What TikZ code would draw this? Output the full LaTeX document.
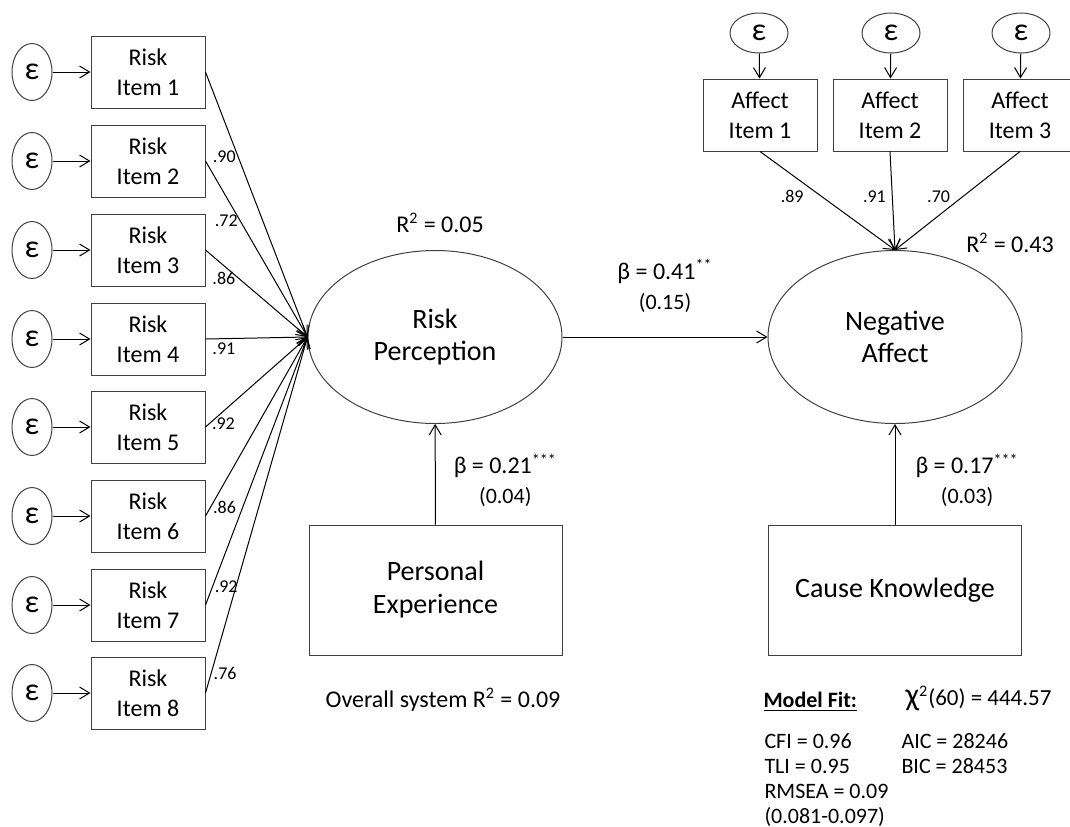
\documentclass[tikz,border=0pt]{standalone}
\usepackage{fontspec}
\setmainfont{Carlito}
\usetikzlibrary{positioning, shapes.geometric, arrows.meta}

\begin{document}
\begin{tikzpicture}[
    x=0.5pt, y=-0.5pt,
    >={Straight Barb[length=5pt,width=6pt]},
    line width=0.5pt,
    item/.style={draw=black!75, minimum width=57pt, minimum height=36pt, inner sep=0pt, align=center, font=\fontsize{12}{15}\selectfont},
    err/.style={draw=black!75, ellipse, minimum width=20pt, minimum height=28.5pt, inner sep=0pt, font=\fontsize{16}{16}\selectfont},
    errtop/.style={err, minimum width=29pt, minimum height=20pt},
    latent/.style={draw=black!75, ellipse, minimum width=127pt, minimum height=86.5pt, inner sep=0pt, align=center, font=\fontsize{14}{16}\selectfont},
    bigbox/.style={draw=black!75, minimum width=126.5pt, minimum height=65pt, inner sep=0pt, align=center, font=\fontsize{14}{16.5}\selectfont},
    load/.style={font=\fontsize{9}{9}\selectfont, inner sep=1pt},
    coef/.style={align=center, inner sep=0pt, font=\fontsize{12}{15}\selectfont},
    fitstat/.style={anchor=north west, inner sep=0pt, font=\fontsize{11}{12.5}\selectfont, align=left}
]
    \useasboundingbox (0,0) rectangle (1070,826);

    % Risk items with their error terms
    \node[item] (r1) at (148,72)  {Risk\\Item 1};
    \node[item] (r2) at (148,161) {Risk\\Item 2};
    \node[item] (r3) at (148,250) {Risk\\Item 3};
    \node[item] (r4) at (148,339) {Risk\\Item 4};
    \node[item] (r5) at (148,427) {Risk\\Item 5};
    \node[item] (r6) at (148,516) {Risk\\Item 6};
    \node[item] (r7) at (148,605) {Risk\\Item 7};
    \node[item] (r8) at (148,693) {Risk\\Item 8};
    \node[err] (e1) at (32,72)  {ε};
    \node[err] (e2) at (32,161) {ε};
    \node[err] (e3) at (32,250) {ε};
    \node[err] (e4) at (32,339) {ε};
    \node[err] (e5) at (32,427) {ε};
    \node[err] (e6) at (32,516) {ε};
    \node[err] (e7) at (32,605) {ε};
    \node[err] (e8) at (32,693) {ε};

    % Affect items
    \node[item] (a1) at (760,115)  {Affect\\Item 1};
    \node[item] (a2) at (890,115)  {Affect\\Item 2};
    \node[item] (a3) at (1020,115) {Affect\\Item 3};
    \node[errtop] (ea1) at (759,33)  {ε};
    \node[errtop] (ea2) at (891,33)  {ε};
    \node[errtop] (ea3) at (1021,33) {ε};

    % Latent variables and predictors
    \node[latent] (rp) at (435,337) {Risk\\Perception};
    \node[latent] (na) at (895,337) {Negative\\Affect};
    \node[bigbox] (pe) at (435.5,590) {Personal\\Experience};
    \node[bigbox] (ck) at (895,590) {Cause Knowledge};

    \node[coef] (r2rp) at (440,223) {R\textsuperscript{2} = 0.05};
    \node[coef] (r2na) at (1010,243) {R\textsuperscript{2} = 0.43};
    \node[coef] (r2all) at (443,700) {Overall system R\textsuperscript{2} = 0.09};

    \path[->]
        (e1) edge (r1) (e2) edge (r2) (e3) edge (r3) (e4) edge (r4)
        (e5) edge (r5) (e6) edge (r6) (e7) edge (r7) (e8) edge (r8)
        (ea1) edge (a1) (ea2) edge (a2) (ea3) edge (a3);

    \path[->]
        (r1.east) edge node[load, pos=0.32, anchor=east] {.90} (rp.west)
        (r2.east) edge node[load, pos=0.34, anchor=east] {.72} (rp.west)
        (r3.east) edge node[load, pos=0.18, below=2pt] {.86} (rp.west)
        (r4.east) edge node[load, pos=0.18, below=1pt] {.91} (rp.west)
        (r5.east) edge node[load, pos=0.04, anchor=west] {.92} (rp.west)
        (r6.east) edge node[load, pos=0.05, anchor=west] {.86} (rp.west)
        (r7.east) edge node[load, pos=0.067, anchor=west] {.92} (rp.west)
        (r8.east) edge node[load, pos=0.056, anchor=west] {.76} (rp.west);

    \path[->]
        (a1.south) edge node[load, pos=0.46, left=8pt] {.89} (na.north)
        (a2.south) edge node[load, pos=0.46, left=2pt] {.91} (na.north)
        (a3.south) edge node[load, pos=0.46, left=5pt] {.70} (na.north);

    \path[->]
        (rp) edge node[coef, above=12pt] {β = 0.41\textsuperscript{**}\\{\fontsize{11}{11}\selectfont (0.15)}} (na)
        (pe) edge node[coef, right=9pt, yshift=-3pt] {β = 0.21\textsuperscript{***}\\{\fontsize{11}{11}\selectfont (0.04)}} (rp)
        (ck) edge node[coef, right=10pt, yshift=-3pt] {β = 0.17\textsuperscript{***}\\{\fontsize{11}{11}\selectfont (0.03)}} (na);

    % Model fit
    \node[anchor=base west, inner sep=0pt, font=\fontsize{11}{12.5}\selectfont\bfseries] (mfit) at (763,707) {\underline{Model Fit:}};
    \node[anchor=base west, inner sep=0pt, font=\fontsize{11.5}{12.5}\selectfont] (chi) at (905,705) {{\fontsize{16}{16}\selectfont χ}\textsuperscript{2}(60) = 444.57};
    \node[fitstat] (fit1) at (764,733) {CFI = 0.96\\TLI = 0.95\\RMSEA = 0.09\\(0.081-0.097)};
    \node[fitstat] (fit2) at (901,733) {AIC = 28246\\BIC = 28453};
\end{tikzpicture}
\end{document}
